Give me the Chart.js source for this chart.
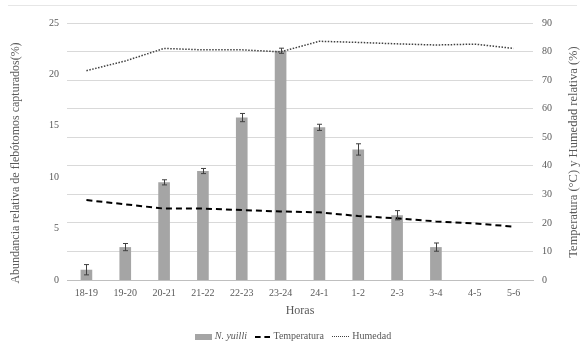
<!DOCTYPE html>
<html>
<head>
<meta charset="utf-8">
<script src="https://cdn.jsdelivr.net/npm/chart.js@4/dist/chart.umd.min.js"></script>
<style>
    body { margin: 0; background: #fff; }
    #wrap { position: relative; width: 586px; height: 346px; }
    #topline { position: absolute; left: 8px; right: 9px; top: 5px; border-top: 1px solid #e6e6e6; }
    #legend {
        position: absolute; left: 0; width: 586px; top: 328px; text-align: center;
        font-family: "Liberation Serif", serif; font-size: 10px; color: #595959; line-height: 15px;
    }
    #legend .item { display: inline-block; margin: 0 3px; }
    #legend .swatch { display: inline-block; width: 17px; vertical-align: middle; margin-right: 3px; }
</style>
</head>
<body>
<div id="wrap">
    <canvas id="horasChart" width="586" height="346"></canvas>
    <div id="topline"></div>
    <div id="legend">
        <span class="item"><span class="swatch" style="height:6px;background:#a5a5a5;"></span><i>N. yuilli</i></span>
        <span class="item"><span class="swatch" style="border-top:2px dashed #000;width:15px;"></span>Temperatura</span>
        <span class="item"><span class="swatch" style="border-top:1.5px dotted #404040;"></span>Humedad</span>
    </div>
</div>
<script>
// Data
const horas = ['18-19', '19-20', '20-21', '21-22', '22-23', '23-24', '24-1', '1-2', '2-3', '3-4', '4-5', '5-6'];
const abundancia = [1.0, 3.2, 9.5, 10.6, 15.8, 22.3, 14.85, 12.7, 6.3, 3.2, 0, 0];
const errorAbund = [0.5, 0.35, 0.25, 0.25, 0.4, 0.25, 0.3, 0.55, 0.45, 0.4, 0, 0];
const temperatura = [28.0, 26.5, 25.0, 25.0, 24.5, 24.0, 23.7, 22.4, 21.6, 20.5, 19.8, 18.7];
const humedad = [73.3, 76.7, 81.1, 80.6, 80.6, 79.9, 83.6, 83.2, 82.7, 82.3, 82.6, 81.1];

const tituloIzq = 'Abundancia relativa de flebótomos capturados(%)';
const tituloDer = 'Temperatura (°C) y Humedad relativa (%)';

const serif = '"Liberation Serif", "Times New Roman", serif';

// error bars on the bar dataset + vertical axis titles (both read bottom-to-top)
const extras = {
    id: 'extras',
    afterDatasetsDraw(chart) {
        const meta = chart.getDatasetMeta(0);
        const yScale = chart.scales.y;
        const ctx = chart.ctx;
        ctx.save();
        ctx.strokeStyle = '#404040';
        ctx.lineWidth = 1;
        meta.data.forEach((bar, i) => {
            const err = errorAbund[i];
            if (!err) return;
            const x = Math.round(bar.x) + 0.5;
            const yTop = yScale.getPixelForValue(abundancia[i] + err);
            const yBot = yScale.getPixelForValue(abundancia[i] - err);
            ctx.beginPath();
            ctx.moveTo(x, yTop); ctx.lineTo(x, yBot);
            ctx.moveTo(x - 2.5, yTop); ctx.lineTo(x + 2.5, yTop);
            ctx.moveTo(x - 2.5, yBot); ctx.lineTo(x + 2.5, yBot);
            ctx.stroke();
        });
        ctx.restore();
    },
    afterDraw(chart) {
        const ctx = chart.ctx;
        ctx.save();
        ctx.fillStyle = '#595959';
        ctx.font = '12px ' + serif;
        ctx.textAlign = 'center';
        ctx.textBaseline = 'middle';
        ctx.translate(16, 163);
        ctx.rotate(-Math.PI / 2);
        ctx.fillText(tituloIzq, 0, 0);
        ctx.restore();
        ctx.save();
        ctx.fillStyle = '#595959';
        ctx.font = '12.5px ' + serif;
        ctx.textAlign = 'center';
        ctx.textBaseline = 'middle';
        ctx.translate(574, 152);
        ctx.rotate(-Math.PI / 2);
        ctx.fillText(tituloDer, 0, 0);
        ctx.restore();
    }
};

const ctx = document.getElementById('horasChart').getContext('2d');
const horasChart = new Chart(ctx, {
    type: 'bar',
    data: {
        labels: horas,
        datasets: [{
            label: 'N. yuilli',
            data: abundancia,
            backgroundColor: '#a5a5a5',
            yAxisID: 'y',
            categoryPercentage: 1,
            barPercentage: 0.3,
            order: 3
        }, {
            type: 'line',
            label: 'Temperatura',
            data: temperatura,
            borderColor: '#000',
            borderWidth: 2,
            borderDash: [6, 4],
            pointRadius: 0,
            fill: false,
            yAxisID: 'y1',
            order: 2
        }, {
            type: 'line',
            label: 'Humedad',
            data: humedad,
            borderColor: '#404040',
            borderWidth: 1.5,
            borderDash: [1.5, 1.5],
            pointRadius: 0,
            fill: false,
            yAxisID: 'y1',
            order: 1
        }]
    },
    options: {
        responsive: false,
        animation: false,
        layout: { padding: { top: 23, bottom: 28, left: 0, right: 0 } },
        plugins: {
            legend: { display: false },
            tooltip: { enabled: false }
        },
        scales: {
            x: {
                grid: { display: false, drawTicks: false },
                border: { color: '#bfbfbf' },
                ticks: { color: '#595959', font: { family: serif, size: 10 }, padding: 7, maxRotation: 0 },
                title: { display: true, text: 'Horas', color: '#595959', font: { family: serif, size: 12 }, padding: { top: 0, bottom: 0 } },
                afterFit: (scale) => { scale.height = 38; }
            },
            y: {
                position: 'left',
                min: 0, max: 25,
                grid: { display: false, drawTicks: false },
                border: { display: false },
                ticks: { stepSize: 5, color: '#595959', font: { family: serif, size: 10 }, padding: 8 },
                afterFit: (scale) => { scale.width = 67; }
            },
            y1: {
                position: 'right',
                min: 0, max: 90,
                grid: {
                    drawTicks: false,
                    color: (c) => c.tick && c.tick.value === 0 ? '#bfbfbf' : '#d9d9d9'
                },
                border: { display: false },
                ticks: { stepSize: 10, color: '#595959', font: { family: serif, size: 10 }, padding: 9 },
                afterFit: (scale) => { scale.width = 53; }
            }
        }
    },
    plugins: [extras]
});
</script>
</body>
</html>
